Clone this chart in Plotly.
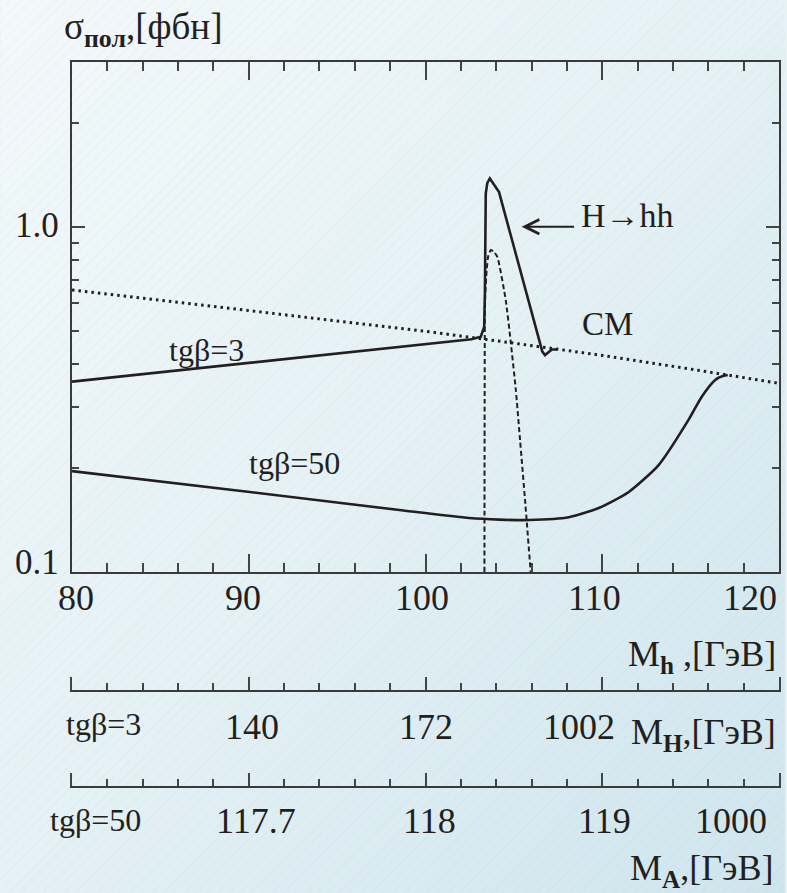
import base64
import math
import plotly.graph_objects as go

# ---------------- data ----------------
# Standard Model (СМ) cross-section, dotted
sm_mh = [80, 85, 90, 95, 100, 105, 110, 115, 120]
sm_sigma = [0.656, 0.612, 0.571, 0.533, 0.498, 0.460, 0.424, 0.387, 0.352]

# MSSM, tg(beta)=3, solid
tg3_mh = [80, 85, 90, 95, 100, 102.6, 103.13, 103.32, 103.36, 103.37, 103.41, 103.5,
          103.64, 104.16, 106.61, 106.76, 107.0, 107.15, 107.44]
tg3_sigma = [0.356, 0.379, 0.403, 0.429, 0.457, 0.472, 0.480, 0.513, 0.643, 1.0, 1.249, 1.34,
             1.38, 1.26, 0.435, 0.425, 0.434, 0.441, 0.441]

# H -> hh contribution (tg(beta)=3), dashed
hhh_mh = [103.334, 103.346, 103.37, 103.46, 103.55, 103.70, 103.88, 104.07, 104.54, 104.82,
          105.11, 105.35, 105.63, 105.95]
hhh_sigma = [0.1, 0.315, 0.613, 0.749, 0.822, 0.856, 0.845, 0.817, 0.613, 0.465,
             0.337, 0.241, 0.162, 0.1]

# MSSM, tg(beta)=50, solid
tg50_mh = [80, 90.06, 98.52, 102.47, 104.2, 105.86, 108.11, 109.8, 111.5, 113.19, 114.88,
           115.63, 116.39, 116.86, 117.1]
tg50_sigma = [0.196, 0.1705, 0.1512, 0.1433, 0.1418, 0.1414, 0.1441, 0.1532, 0.1705, 0.204,
              0.2757, 0.322, 0.360, 0.370, 0.372]

# axis ticks / tick labels
mh_ticks = [80, 90, 100, 110, 120]
mh_ticklabels = ["80", "90", "100", "110", "120"]
mh_minor = [82, 84, 86, 88, 92, 94, 96, 98, 102, 104, 106, 108, 112, 114, 116, 118]
sigma_ticks = [0.1, 1.0]
sigma_ticklabels = ["0.1", "1.0"]
sigma_minor = [0.2, 0.3, 0.4, 0.5, 0.6, 0.7, 0.8, 0.9, 2.0]

# secondary scales: M_H (tg beta = 3) and M_A (tg beta = 50) at given M_h
mH_tg3_labels = ["140", "172", "1002"]
mH_tg3_at_mh = [90.2, 100.0, 108.7]
mA_tg50_labels = ["117.7", "118", "119", "1000"]
mA_tg50_at_mh = [90.4, 100.2, 110.1, 117.3]

# ---------------- layout geometry ----------------
W, H = 787, 893
ML, MR, MT, MB = 72, 6, 62, 93
PW = W - ML - MR
PH = H - MT - MB


def ppy(ypx):
    return (H - MB - ypx) / PH


def ppx(xpx):
    return (xpx - ML) / PW


FONT = "Liberation Serif, Times New Roman, Tinos, serif"
INK = "#231f20"
AX = "#3a3a3a"
TK = "#444444"

svg = (
    "<svg xmlns='http://www.w3.org/2000/svg' width='787' height='893'>"
    "<defs><linearGradient id='g' x1='0' y1='0' x2='1' y2='1'>"
    "<stop offset='0' stop-color='#f4f9fb'/><stop offset='0.5' stop-color='#e4f1f5'/>"
    "<stop offset='1' stop-color='#cfe5ed'/></linearGradient>"
    "<pattern id='p' width='11' height='11' patternUnits='userSpaceOnUse'>"
    "<path d='M0,11 L11,0' stroke='#8fb0bd' stroke-opacity='0.13' stroke-width='1'/></pattern>"
    "</defs><rect width='787' height='893' fill='url(#g)'/>"
    "<rect width='787' height='893' fill='url(#p)'/></svg>"
)
bg_src = "data:image/svg+xml;base64," + base64.b64encode(svg.encode()).decode()

fig = go.Figure()

fig.add_trace(go.Scatter(x=sm_mh, y=sm_sigma, mode="lines",
                         line=dict(color=INK, width=3, dash="2.5px,4px"), hoverinfo="skip"))
fig.add_trace(go.Scatter(x=hhh_mh, y=hhh_sigma, mode="lines",
                         line=dict(color=INK, width=2, dash="5px,3px", shape="spline", smoothing=0.5),
                         hoverinfo="skip"))
fig.add_trace(go.Scatter(x=tg3_mh, y=tg3_sigma, mode="lines",
                         line=dict(color=INK, width=2.6), hoverinfo="skip"))
fig.add_trace(go.Scatter(x=tg50_mh, y=tg50_sigma, mode="lines",
                         line=dict(color=INK, width=2.6, shape="spline", smoothing=0.6),
                         hoverinfo="skip"))
# invisible anchors for the two secondary scales (their own thin subplots)
fig.add_trace(go.Scatter(x=[80], y=[0.5], xaxis="x2", yaxis="y2", mode="markers",
                         marker=dict(opacity=0), hoverinfo="skip"))
fig.add_trace(go.Scatter(x=[80], y=[0.5], xaxis="x3", yaxis="y3", mode="markers",
                         marker=dict(opacity=0), hoverinfo="skip"))

ydom0 = ppy(572)


def xaxis_style(major_len, minor_len, **kw):
    d = dict(range=[80, 120], showgrid=False, zeroline=False, showticklabels=False,
             tickmode="array", tickvals=mh_ticks, ticks="inside", ticklen=major_len,
             tickcolor=TK, tickwidth=2, showline=True, linecolor=AX, linewidth=2,
             minor=dict(tickmode="array", tickvals=mh_minor, ticks="inside",
                        ticklen=minor_len, tickcolor=TK, tickwidth=1.8, showgrid=False))
    d.update(kw)
    return d


# the thin sub-plots' y axes only draw the two end ticks of each secondary scale
ysub = dict(range=[0, 1], fixedrange=True, showticklabels=False, ticks="", showgrid=False,
            zeroline=False, showline=True, mirror=True, linecolor=TK, linewidth=2)

fig.update_layout(
    width=W, height=H,
    margin=dict(l=ML, r=MR, t=MT, b=MB),
    paper_bgcolor="#e6f2f6",
    plot_bgcolor="rgba(0,0,0,0)",
    showlegend=False,
    font=dict(family=FONT, color=INK),
    xaxis=xaxis_style(18, 9, mirror="allticks", anchor="y"),
    yaxis=dict(type="log", range=[-1, math.log10(3.0)], domain=[ydom0, 1],
               tickmode="array", tickvals=sigma_ticks, ticktext=sigma_ticklabels,
               showticklabels=False,
               ticks="inside", ticklen=13, tickcolor=TK, tickwidth=2,
               showline=True, linecolor=AX, linewidth=2, mirror="allticks",
               showgrid=False, zeroline=False,
               minor=dict(tickvals=sigma_minor, ticks="inside", ticklen=7,
                          tickcolor=TK, tickwidth=1.8)),
    xaxis2=xaxis_style(13, 7, anchor="y2"),
    yaxis2=dict(**ysub, domain=[ppy(690), ppy(677)], anchor="x2"),
    xaxis3=xaxis_style(13, 7, anchor="y3"),
    yaxis3=dict(**ysub, domain=[ppy(786), ppy(773)], anchor="x3"),
    images=[dict(source=bg_src, xref="paper", yref="paper", x=-ML / PW, y=1 + MT / PH,
                 sizex=W / PW, sizey=H / PH, xanchor="left", yanchor="top",
                 sizing="stretch", layer="below")],
)

ann = []


def txt(text, x, y, size, xref="paper", yref="paper", xanchor="center", yanchor="middle",
        xshift=0, yshift=0):
    ann.append(dict(text=text, x=x, y=y, xref=xref, yref=yref, xanchor=xanchor,
                    yanchor=yanchor, xshift=xshift, yshift=yshift, showarrow=False,
                    font=dict(family=FONT, size=size, color=INK)))


# main x tick labels (slight per-label offsets like the original artwork)
lab_shift = [4, -6, -4, -8, 0]
lab_anchor = ["center", "center", "center", "center", "right"]
for v, t, s, a in zip(mh_ticks, mh_ticklabels, lab_shift, lab_anchor):
    txt(t, v, ppy(598), 36, xref="x", xanchor=a, xshift=s)

# y tick labels
for v, t in zip(sigma_ticks, sigma_ticklabels):
    txt(t, 0, math.log10(v), 35, yref="y", xanchor="right", xshift=-11,
        yshift=10 if v == 0.1 else 1)

# axis titles
txt("σ<sub><b>пол</b></sub>,[фбн]", ppx(62), ppy(30), 37, xanchor="left")
txt("M<sub><b>h</b></sub> ,[ГэВ]", 1, ppy(656), 36, xanchor="right", xshift=-1)
txt("M<sub><b>H</b></sub>,[ГэВ]", 1, ppy(734), 36, xanchor="right", xshift=-1)
txt("M<sub><b>A</b></sub>,[ГэВ]", 1, ppy(871), 36, xanchor="right", xshift=-4)

# secondary scales
txt("tgβ=3", ppx(104), ppy(724), 32)
for t, m in zip(mH_tg3_labels, mH_tg3_at_mh):
    txt(t, m, ppy(727), 36, xref="x")
txt("tgβ=50", ppx(96), ppy(820), 32)
for t, m in zip(mA_tg50_labels, mA_tg50_at_mh):
    txt(t, m, ppy(821), 36, xref="x")

# curve labels
txt("tgβ=3", 87.6, math.log10(0.44), 32, xref="x", yref="y")
txt("tgβ=50", 92.6, math.log10(0.207), 32, xref="x", yref="y")
txt("СМ", 110.3, math.log10(0.523), 33, xref="x", yref="y")
txt("H→hh", 111.4, math.log10(1.08), 34, xref="x", yref="y")

# arrow pointing to the H->hh peak
ann.append(dict(x=105.44, y=0, xref="x", yref="y", ax=108.49, ay=0, axref="x", ayref="y",
                text="", showarrow=True, arrowhead=5, arrowsize=1.3, arrowwidth=2.2,
                arrowcolor=INK))

fig.update_layout(annotations=ann)
fig.write_html("out.html")
